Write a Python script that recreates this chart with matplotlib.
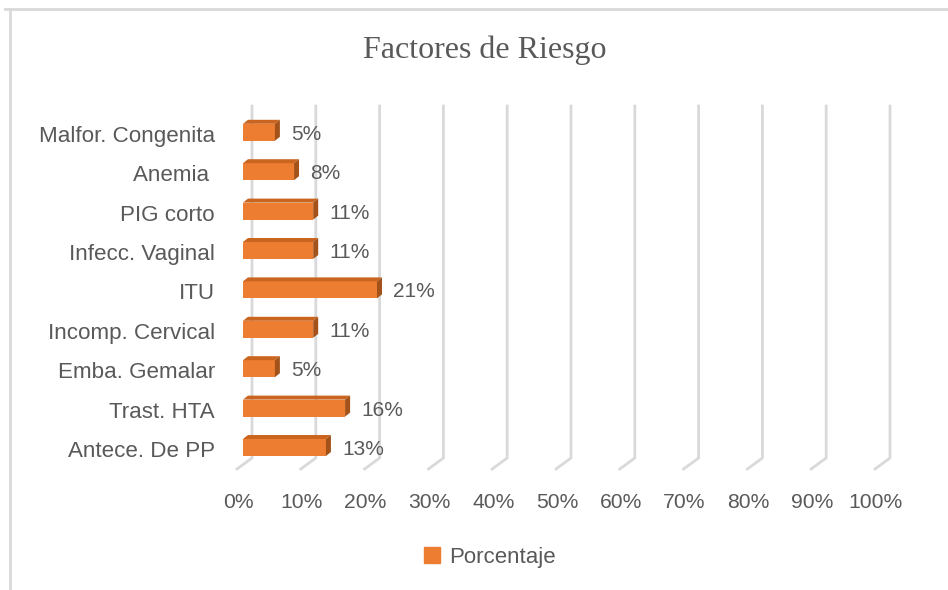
import matplotlib
matplotlib.use("Agg")
import matplotlib.pyplot as plt
from matplotlib.patches import Polygon, Patch
from matplotlib.lines import Line2D
from matplotlib.transforms import offset_copy

# datos (de abajo hacia arriba)
categorias = ["Antece. De PP", "Trast. HTA", "Emba. Gemalar", "Incomp. Cervical",
              "ITU", "Infecc. Vaginal", "PIG corto", "Anemia ", "Malfor. Congenita"]
porcentajes = [0.13, 0.16, 0.05, 0.11, 0.21, 0.11, 0.11, 0.08, 0.05]
ticks = [0.0, 0.1, 0.2, 0.3, 0.4, 0.5, 0.6, 0.7, 0.8, 0.9, 1.0]
tick_labels = ["0%", "10%", "20%", "30%", "40%", "50%", "60%", "70%", "80%", "90%", "100%"]

W, H = 948, 590
naranja = "#ED7D31"
gris = "#595959"
linea = "#D9D9D9"

fig = plt.figure(figsize=(W / 100, H / 100), dpi=100)

# ejes: x 0..1 -> px 243..881, y indice -> px 447.5 - 39.4*i
px_x0, px_x1 = 243, 881
ppx = px_x1 - px_x0
ppy = 39.4
y0_px = 447.5
y_top_px, y_bot_px = 106, 469
ax = fig.add_axes([px_x0 / W, 1 - y_bot_px / H, ppx / W, (y_bot_px - y_top_px) / H])
ax.set_xlim(0, 1)
ax.set_ylim((y0_px - y_bot_px) / ppy, (y0_px - y_top_px) / ppy)
ax.axis("off")

# rejilla 3D (pared del fondo + piso)
back_dx = 9 / ppx
front_dx = -6 / ppx
floor_back = (y0_px - 458) / ppy
floor_front = (y0_px - y_bot_px) / ppy
top = (y0_px - y_top_px) / ppy
for t in ticks:
    ax.add_line(Line2D([t + back_dx, t + back_dx, t + front_dx],
                       [top, floor_back, floor_front],
                       color=linea, lw=2, clip_on=False, zorder=1))

for t, lab in zip(ticks, tick_labels):
    ax.text(t, floor_front, lab, ha="center", va="center", fontsize=15.2,
            color=gris, family="Liberation Sans",
            transform=offset_copy(ax.transData, fig=fig, x=-5, y=-34, units="dots"))

# barras
alto = 17 / ppy
ddx = 5 / ppx
ddy = 4 / ppy
y = list(range(len(categorias)))
bars = ax.barh(y, porcentajes, height=alto, color=naranja, zorder=3)
for b in bars:
    x0, yb = b.get_x(), b.get_y()
    w, h = b.get_width(), b.get_height()
    ax.add_patch(Polygon([(x0, yb + h), (x0 + ddx, yb + h + ddy), (x0 + w + ddx, yb + h + ddy),
                          (x0 + w, yb + h)], closed=True, color="#C9651F", zorder=3, lw=0))
    ax.add_patch(Polygon([(x0 + w, yb), (x0 + w + ddx, yb + ddy), (x0 + w + ddx, yb + h + ddy),
                          (x0 + w, yb + h)], closed=True, color="#A3531A", zorder=3, lw=0))

for yi, v in zip(y, porcentajes):
    ax.text(v, yi, "{:.0f}%".format(v * 100), ha="left", va="center", fontsize=15,
            color=gris, family="Liberation Sans",
            transform=offset_copy(ax.transData, fig=fig, x=16, y=-2, units="dots"))

for yi, c in zip(y, categorias):
    ax.text(0, yi, c, ha="right", va="center", fontsize=16.1, color=gris,
            family="Liberation Sans",
            transform=offset_copy(ax.transData, fig=fig, x=-28, y=-4, units="dots"))

fig.text(485 / W, 1 - 50 / H, "Factores de Riesgo", ha="center", va="center",
         fontsize=23, color=gris, family="Liberation Serif")

fig.legend(handles=[Patch(color=naranja, label="Porcentaje")], loc="center",
           bbox_to_anchor=(490 / W, 1 - 557 / H), frameon=False,
           handlelength=0.7, handleheight=0.7, handletextpad=0.4,
           prop={"family": "Liberation Sans", "size": 16}, labelcolor=gris)

# marco del grafico
fig.add_artist(Line2D([5 / W, 1], [1 - 9 / H, 1 - 9 / H], color=linea, lw=2,
                      transform=fig.transFigure))
fig.add_artist(Line2D([10 / W, 10 / W], [0, 1 - 9 / H], color=linea, lw=2,
                      transform=fig.transFigure))

fig.savefig("out.png", dpi=100)
